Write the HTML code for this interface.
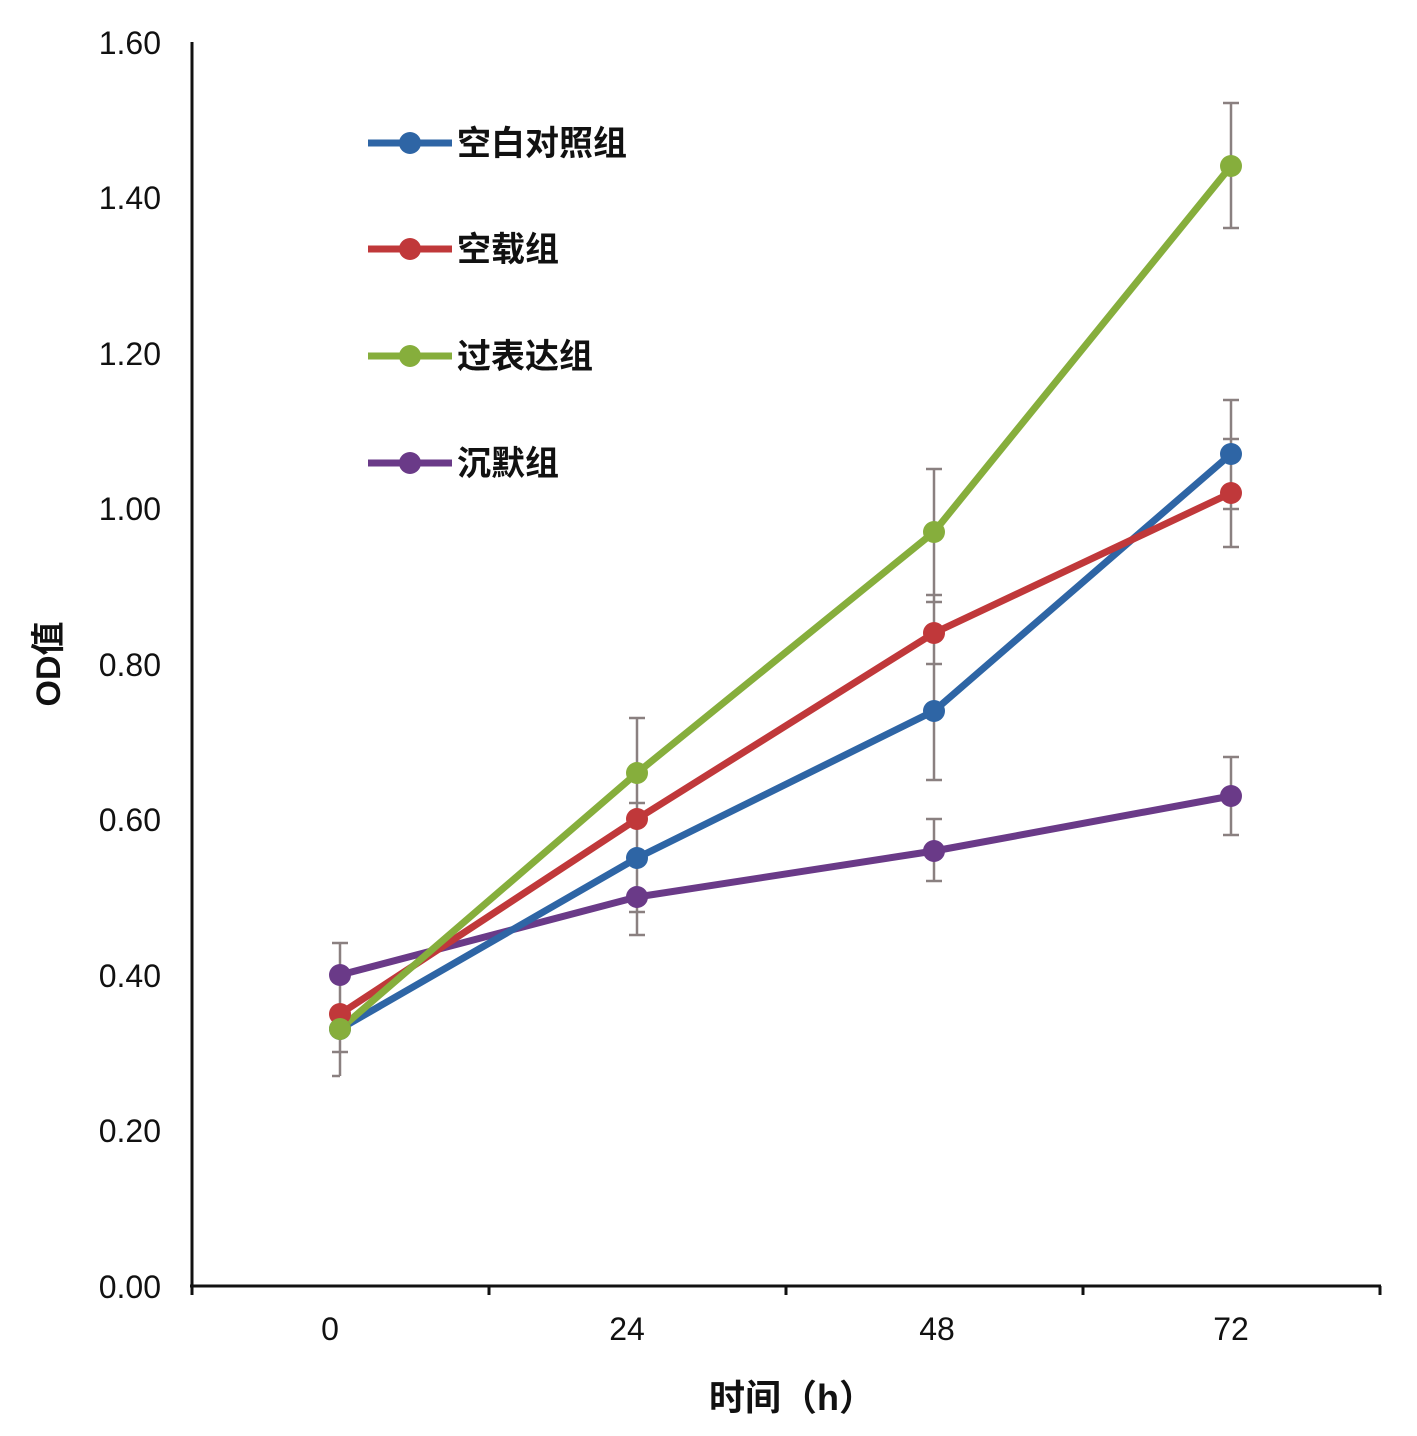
<!DOCTYPE html>
<html><head><meta charset="utf-8"><style>
html,body{margin:0;padding:0;background:#fff;}
svg{display:block;}
text{font-family:"Liberation Sans","Noto Sans CJK SC",sans-serif;fill:#111;}
</style></head><body>
<svg width="1417" height="1436" viewBox="0 0 1417 1436" xmlns="http://www.w3.org/2000/svg">
<g font-size="32" text-anchor="end">
<text x="161" y="54">1.60</text>
<text x="161" y="209">1.40</text>
<text x="161" y="365">1.20</text>
<text x="161" y="520">1.00</text>
<text x="161" y="676">0.80</text>
<text x="161" y="831">0.60</text>
<text x="161" y="987">0.40</text>
<text x="161" y="1142">0.20</text>
<text x="161" y="1298">0.00</text>
</g>
<g font-size="32" text-anchor="middle">
<text x="330" y="1340">0</text>
<text x="627" y="1340">24</text>
<text x="937" y="1340">48</text>
<text x="1231" y="1340">72</text>
<text x="792" y="1410" font-size="36" font-weight="600">时间（h）</text>
</g>
<text transform="translate(60,664) rotate(-90)" font-size="34" font-weight="600" text-anchor="middle">OD值</text>
<g stroke="#111" stroke-width="3" fill="none">
<line x1="192" y1="42" x2="192" y2="1295"/>
<line x1="190" y1="1286" x2="1381" y2="1286"/>
<line x1="489" y1="1286" x2="489" y2="1295"/>
<line x1="786" y1="1286" x2="786" y2="1295"/>
<line x1="1083" y1="1286" x2="1083" y2="1295"/>
<line x1="1380" y1="1286" x2="1380" y2="1295"/>
</g>
<g stroke="#8a8080" stroke-width="2.5">
<path d="M340 943V1076M332 943H348M332 1076H340M332 1052H348"/>
<path d="M637 718V935M629 718H645M629 935H645M629 803H645M629 912H645"/>
<path d="M934 469V780M926 469H942M926 595H942M926 602H942M926 664H942M926 780H942M934 819V881M926 819H942M926 881H942"/>
<path d="M1231 103V228M1223 103H1239M1223 228H1239M1231 400V547M1223 400H1239M1223 439H1239M1223 509H1239M1223 547H1239M1231 757V835M1223 757H1239M1223 835H1239"/>
</g>
<g stroke-width="7" fill="none" stroke-linejoin="round">
<polyline stroke="#6a3a88" points="340,975 637,897 934,851 1231,796"/>
<polyline stroke="#2e65a5" points="340,1029 637,858 934,711 1231,454"/>
<polyline stroke="#c0383a" points="340,1014 637,819 934,633 1231,493"/>
<polyline stroke="#86ae3c" points="340,1029 637,773 934,532 1231,166"/>
</g>
<g fill="#6a3a88"><circle cx="340" cy="975" r="11"/><circle cx="637" cy="897" r="11"/><circle cx="934" cy="851" r="11"/><circle cx="1231" cy="796" r="11"/></g>
<g fill="#2e65a5"><circle cx="340" cy="1029" r="11"/><circle cx="637" cy="858" r="11"/><circle cx="934" cy="711" r="11"/><circle cx="1231" cy="454" r="11"/></g>
<g fill="#c0383a"><circle cx="340" cy="1014" r="11"/><circle cx="637" cy="819" r="11"/><circle cx="934" cy="633" r="11"/><circle cx="1231" cy="493" r="11"/></g>
<g fill="#86ae3c"><circle cx="340" cy="1029" r="11"/><circle cx="637" cy="773" r="11"/><circle cx="934" cy="532" r="11"/><circle cx="1231" cy="166" r="11"/></g>
<g stroke-width="7">
<line x1="368" y1="143" x2="452" y2="143" stroke="#2e65a5"/><circle cx="410" cy="143" r="11" fill="#2e65a5"/>
<line x1="368" y1="249" x2="452" y2="249" stroke="#c0383a"/><circle cx="410" cy="249" r="11" fill="#c0383a"/>
<line x1="368" y1="356" x2="452" y2="356" stroke="#86ae3c"/><circle cx="410" cy="356" r="11" fill="#86ae3c"/>
<line x1="368" y1="463" x2="452" y2="463" stroke="#6a3a88"/><circle cx="410" cy="463" r="11" fill="#6a3a88"/>
</g>
<g font-size="34" font-weight="600">
<text x="457" y="155">空白对照组</text>
<text x="457" y="261">空载组</text>
<text x="457" y="368">过表达组</text>
<text x="457" y="475">沉默组</text>
</g>
</svg>
</body></html>
